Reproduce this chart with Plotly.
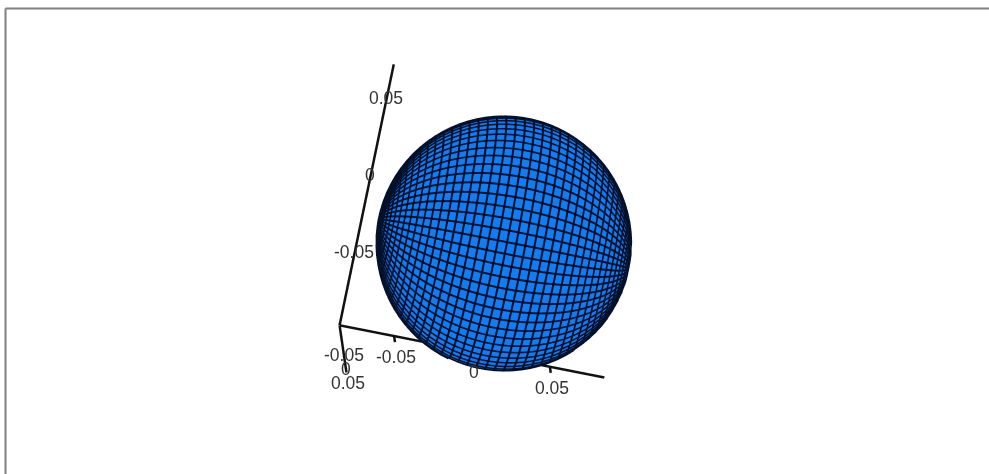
import numpy as np
import plotly.graph_objects as go

W, H = 989, 474
SPHERE_COLOR = "#0f7ef5"
GRID_COLOR = "#04102a"
AXIS_COLOR = "#111111"
LABEL_COLOR = "#333333"

RADIUS = 0.0798
CENTER_X = 0.0007
CENTER_Z = 0.0006
AXIS_MIN = -0.085
AXIS_MAX = 0.085
X_TICKS = [-0.05, 0, 0.05]
Y_TICKS = [-0.05, 0, 0.05]
Z_TICKS = [-0.05, 0, 0.05]
TICK_LABELS = ["-0.05", "0", "0.05"]
N_PARALLELS = 43
N_MERIDIANS = 68
EYE_DIR = (-0.0595, -0.984, 0.166)
UP_DIR = (-0.193, 0.1745, 0.965)

# sphere parameter grid, the poles sit on the x axis
polar = np.linspace(0, np.pi, N_PARALLELS + 1)
around = np.linspace(0, 2 * np.pi, N_MERIDIANS + 1)
pp, aa = np.meshgrid(polar, around)
ux = np.cos(pp)
uy = np.sin(pp) * np.cos(aa)
uz = np.sin(pp) * np.sin(aa)

fig = go.Figure()
fig.add_trace(go.Surface(
    x=CENTER_X + RADIUS * ux, y=RADIUS * uy, z=CENTER_Z + RADIUS * uz,
    colorscale=[[0, SPHERE_COLOR], [1, SPHERE_COLOR]],
    showscale=False,
    lighting=dict(ambient=1, diffuse=0, specular=0, roughness=1, fresnel=0),
    hoverinfo="skip",
))

# grid lines, just outside the surface. back half is dropped below the
# upper rim, otherwise its lines stick out as a dark ring along the lower edge
facing = EYE_DIR[0] * ux + EYE_DIR[1] * uy + EYE_DIR[2] * uz
height = UP_DIR[0] * ux + UP_DIR[1] * uy + UP_DIR[2] * uz
keep = (facing > 0.03) | (height > 0.0)
lift = RADIUS * 1.004
lx = np.where(keep, CENTER_X + lift * ux, np.nan)
ly = np.where(keep, lift * uy, np.nan)
lz = np.where(keep, CENTER_Z + lift * uz, np.nan)
gx, gy, gz = [], [], []
for j in range(pp.shape[1]):
    gx += list(lx[:, j]) + [None]
    gy += list(ly[:, j]) + [None]
    gz += list(lz[:, j]) + [None]
for i in range(pp.shape[0] - 1):
    gx += list(lx[i, :]) + [None]
    gy += list(ly[i, :]) + [None]
    gz += list(lz[i, :]) + [None]
fig.add_trace(go.Scatter3d(
    x=gx, y=gy, z=gz, mode="lines",
    line=dict(color=GRID_COLOR, width=4),
    connectgaps=False,
    hoverinfo="skip", showlegend=False,
))

# the three axes from the back corner, y runs towards the viewer's far side
ax_x = [AXIS_MIN, AXIS_MAX, None, AXIS_MIN, AXIS_MIN, None, AXIS_MIN, AXIS_MIN]
ax_y = [AXIS_MAX, AXIS_MAX, None, AXIS_MAX, AXIS_MIN, None, AXIS_MAX, AXIS_MAX]
ax_z = [AXIS_MIN, AXIS_MIN, None, AXIS_MIN, AXIS_MIN, None, AXIS_MIN, AXIS_MAX]
for t in X_TICKS:
    ax_x += [None, t, t]
    ax_y += [None, AXIS_MAX, AXIS_MAX - 0.022]
    ax_z += [None, AXIS_MIN, AXIS_MIN]
fig.add_trace(go.Scatter3d(
    x=ax_x, y=ax_y, z=ax_z, mode="lines",
    line=dict(color=AXIS_COLOR, width=5),
    hoverinfo="skip", showlegend=False,
))

font = dict(family="Liberation Sans", size=17.5, color=LABEL_COLOR)
notes = []
for t, lab in zip(X_TICKS, TICK_LABELS):
    notes.append(dict(x=t, y=AXIS_MAX, z=AXIS_MIN, text=lab, showarrow=False,
                      font=font, xshift=2, yshift=-21))
for t, lab in zip(Y_TICKS, TICK_LABELS):
    notes.append(dict(x=AXIS_MIN, y=-t, z=AXIS_MIN, text=lab, showarrow=False,
                      font=font, xshift=3, yshift=-20))
for t, lab in zip(Z_TICKS, TICK_LABELS):
    notes.append(dict(x=AXIS_MIN, y=AXIS_MAX, z=t, text=lab, showarrow=False,
                      font=font, xshift=3, yshift=20))

hidden = dict(visible=False, range=[AXIS_MIN, AXIS_MAX], autorange=False)
EYE_DIST = 1.6
ZOOM = 1.178  # orthographic size follows the aspect ratio, not the eye distance
fig.update_layout(
    width=W, height=H,
    margin=dict(l=0, r=0, t=0, b=0),
    paper_bgcolor="white",
    showlegend=False,
    scene=dict(
        domain=dict(x=[16 / W, 1], y=[0, 1 - 15 / H]),
        xaxis=hidden, yaxis=hidden, zaxis=hidden,
        aspectmode="manual",
        aspectratio=dict(x=ZOOM, y=ZOOM, z=ZOOM),
        camera=dict(
            projection=dict(type="orthographic"),
            eye=dict(x=EYE_DIR[0] * EYE_DIST, y=EYE_DIR[1] * EYE_DIST, z=EYE_DIR[2] * EYE_DIST),
            up=dict(x=UP_DIR[0], y=UP_DIR[1], z=UP_DIR[2]),
            center=dict(x=0, y=0, z=0),
        ),
        annotations=notes,
    ),
    # frame of the plot window, only top and left are in the picture
    shapes=[
        dict(type="line", xref="paper", yref="paper", x0=5.5 / W, x1=1,
             y0=1 - 8.5 / H, y1=1 - 8.5 / H, line=dict(color="#808080", width=2)),
        dict(type="line", xref="paper", yref="paper", x0=5.5 / W, x1=5.5 / W,
             y0=0, y1=1 - 8.5 / H, line=dict(color="#808080", width=2)),
    ],
)
# the page's default body margin would push the figure 8px in
fig.write_html("out.html", config=dict(displayModeBar=False),
               post_script="document.body.style.margin='0';document.body.style.overflow='hidden';")
